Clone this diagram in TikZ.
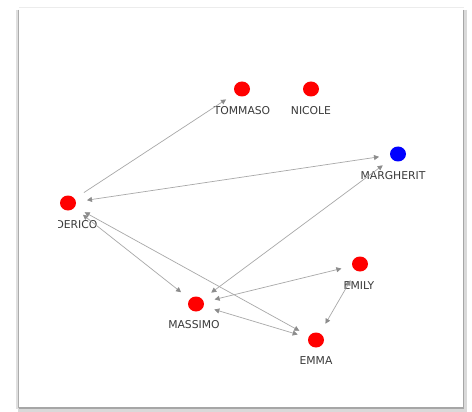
\documentclass[tikz,border=0pt]{standalone}
\usepackage{fontspec}
\setmainfont{DejaVu Sans}
\usetikzlibrary{arrows.meta}
\definecolor{edgegray}{HTML}{A8A8A8}
\definecolor{tipgray}{HTML}{8C8C8C}
\definecolor{labelgray}{HTML}{3A3A3A}
\tikzset{
  dotred/.style={ellipse,fill=red,draw=none,minimum width=16pt,minimum height=15pt,inner sep=0pt},
  dotblue/.style={ellipse,fill=blue,draw=none,minimum width=16pt,minimum height=15pt,inner sep=0pt},
  lbl/.style={font=\fontsize{10.8}{12}\selectfont,text=labelgray,inner sep=0pt},
  link/.style={draw=edgegray,line width=0.7pt,shorten >=11pt,shorten <=11pt,
    -{Triangle[width=5pt,length=5pt,fill=tipgray,color=tipgray]}},
  blink/.style={link,{Triangle[width=5pt,length=5pt,fill=tipgray,color=tipgray]}-{Triangle[width=5pt,length=5pt,fill=tipgray,color=tipgray]}}
}
\usetikzlibrary{shapes.geometric}
\begin{document}
\begin{tikzpicture}[x=1pt,y=-1pt]
\useasboundingbox (0,0) rectangle (472,412);
\fill[white] (0,0) rectangle (472,412);
% frame
\draw[gray!15,line width=1pt] (19,8) -- (464,8);
\draw[gray!25,line width=3pt] (17,10) -- (17,409);
\draw[gray!65,line width=1pt] (18.8,10) -- (18.8,408);
\draw[gray!30,line width=3.5pt] (465.5,10) -- (465.5,410);
\draw[gray!70,line width=1.2pt] (463.5,10) -- (463.5,408);
\draw[gray!30,line width=3.5pt] (18,410) -- (467,410);
\draw[gray!70,line width=1.2pt] (19,408) -- (464,408);
% nodes
\node[dotred] (tom) at (242,89) {};
\node[dotred] (nic) at (311,89) {};
\node[dotblue] (mar) at (398,154) {};
\node[dotred] (fed) at (68,203) {};
\node[dotred] (emi) at (360,264) {};
\node[dotred] (mas) at (196,304) {};
\node[dotred] (emm) at (316,340) {};
% labels
\node[lbl] (ltom) at (242,111) {TOMMASO};
\node[lbl] (lnic) at (311,111) {NICOLE};
\node[lbl] (lmar) at (393,176) {MARGHERIT};
\begin{scope}
\clip (58.5,210) rectangle (120,240);
\node[lbl] (lfed) at (70,225) {FEDERICO};
\end{scope}
\node[lbl] (lemi) at (359,286) {EMILY};
\node[lbl] (lmas) at (194,325) {MASSIMO};
\node[lbl] (lemm) at (316,361) {EMMA};
% edges
\draw[link] (fed) -- (tom);
\draw[blink] (fed) -- (mar);
\draw[blink] (fed) -- (mas);
\draw[blink] (fed) -- (emm);
\draw[blink] (mas) -- (mar);
\draw[blink] (mas) -- (emi);
\draw[blink] (mas) -- (emm);
\draw[blink] (emi) -- (emm);
\end{tikzpicture}
\end{document}
